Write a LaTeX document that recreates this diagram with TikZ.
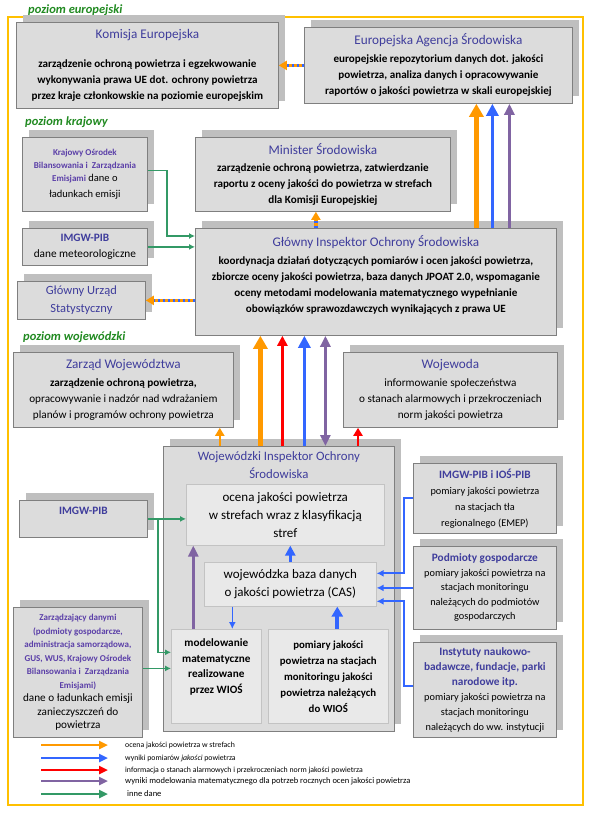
\documentclass[tikz,border=0pt]{standalone}
\usepackage{fontspec}
\setmainfont{Carlito}
\usetikzlibrary{arrows.meta,shadows}
\definecolor{ramka}{HTML}{FFC000}
\definecolor{tlo}{HTML}{DCDCDC}
\definecolor{cien}{HTML}{BFBFBF}
\definecolor{brzeg}{HTML}{7F7F7F}
\definecolor{tytul}{HTML}{3F3D9C}
\definecolor{fiolet}{HTML}{5B3FA8}
\definecolor{poziom}{HTML}{218A21}
\definecolor{pomar}{HTML}{FF9900}
\definecolor{nieb}{HTML}{3366FF}
\definecolor{czerw}{HTML}{FF0000}
\definecolor{purp}{HTML}{8064A2}
\definecolor{ziel}{HTML}{339966}
\definecolor{wnetrze}{HTML}{E9E9E9}
\definecolor{wbrzeg}{HTML}{C3C3C3}
\newcommand{\tyt}{\mdseries\fontsize{13.2}{16}\selectfont\color{tytul}}
\newcommand{\mal}{\bfseries\fontsize{9}{13}\selectfont\color{fiolet}}
\newcommand{\nag}{\bfseries\fontsize{11.3}{14}\selectfont\color{tytul}}
\tikzset{
  pudlo/.style={draw=brzeg, fill=tlo, line width=0.8pt, align=center, inner sep=0pt,
    anchor=north west, drop shadow={shadow xshift=7pt, shadow yshift=7pt, fill=cien, opacity=1},
    font=\bfseries\fontsize{11.1}{16}\selectfont},
  srodek/.style={draw=wbrzeg, fill=wnetrze, line width=0.6pt, align=center, inner sep=0pt,
    anchor=north west, font=\fontsize{13}{18}\selectfont},
  poziomy/.style={anchor=west, inner sep=0pt, font=\bfseries\itshape\fontsize{12.5}{14}\selectfont, text=poziom},
  legenda/.style={anchor=west, inner sep=0pt, font=\fontsize{7.8}{9}\selectfont},
  pom/.style={draw=pomar, line width=4.5pt, -{Triangle[width=14pt,length=13pt]}},
  nie/.style={draw=nieb, line width=3.8pt, -{Triangle[width=12pt,length=12pt]}},
  cze/.style={draw=czerw, line width=3pt, -{Triangle[width=10pt,length=10pt]}},
  fio/.style={draw=purp, line width=3.5pt, -{Triangle[width=10pt,length=11pt]}},
  zie/.style={draw=ziel, line width=1.5pt, -{Latex[width=6pt,length=6pt]}},
  cienka/.style={draw=nieb, line width=2pt, -{Latex[width=7pt,length=7pt]}},
  mix/.style={draw=pomar, line width=3.5pt, -{Triangle[width=9pt,length=8pt]},
    postaction={draw=nieb, line width=3.5pt, dash pattern=on 2.5pt off 2.5pt, -, shorten >=8pt}},
  leg/.style={line width=2.8pt, -{Triangle[width=8pt,length=9pt]}}
}
\begin{document}
\begin{tikzpicture}[x=1pt, y=-1pt]
  \useasboundingbox (0,0) rectangle (591,813);
  \draw[ramka, line width=1.2pt] (8,17) rectangle (583,805);

  \node[poziomy] (eur) at (28,10) {poziom europejski};
  \node[poziomy] (kraj) at (25,122) {poziom krajowy};
  \node[poziomy] (woj) at (23,337) {poziom wojewódzki};

  \node[pudlo, minimum width=262pt, minimum height=86pt] (komisja) at (16,22)
    {{\tyt Komisja Europejska}\\[13pt]zarządzenie ochroną powietrza i egzekwowanie\\wykonywania prawa UE dot. ochrony powietrza\\przez kraje członkowskie na poziomie europejskim};
  \node[pudlo, minimum width=268pt, minimum height=76pt] (eea) at (304,27)
    {{\tyt Europejska Agencja Środowiska}\\[2pt]europejskie repozytorium danych dot. jakości\\powietrza, analiza danych i opracowywanie\\raportów o jakości powietrza w skali europejskiej};

  \node[pudlo, minimum width=125pt, minimum height=74pt, font=\fontsize{10.5}{13}\selectfont] (kobize) at (22,137)
    {{\mal Krajowy Ośrodek}\\{\mal Bilansowania i\ \ Zarządzania}\\{\mal Emisjami} dane o\\[3pt]ładunkach emisji};
  \node[pudlo, minimum width=255pt, minimum height=74pt] (minister) at (195,137)
    {{\tyt Minister Środowiska}\\[1pt]zarządzenie ochroną powietrza, zatwierdzanie\\raportu z oceny jakości do powietrza w strefach\\dla Komisji Europejskiej};
  \node[pudlo, minimum width=125pt, minimum height=37pt, font=\fontsize{11.3}{16}\selectfont] (imgw) at (22,228)
    {{\nag IMGW-PIB}\\dane meteorologiczne};
  \node[pudlo, minimum width=128pt, minimum height=38pt, font=\fontsize{12.5}{18}\selectfont, text=tytul] (gus) at (17,281)
    {Główny Urząd\\Statystyczny};
  \node[pudlo, minimum width=361pt, minimum height=107pt] (gios) at (195,228)
    {{\tyt Główny Inspektor Ochrony Środowiska}\\[2pt]koordynacja działań dotyczących pomiarów i ocen jakości powietrza,\\zbiorcze oceny jakości powietrza, baza danych JPOAT 2.0, wspomaganie\\oceny metodami modelowania matematycznego wypełnianie\\obowiązków sprawozdawczych wynikających z prawa UE\\\mbox{}};

  \node[pudlo, minimum width=220pt, minimum height=75pt, font=\fontsize{11.2}{16}\selectfont] (zarzad) at (13,352)
    {{\tyt Zarząd Województwa}\\[2pt]{\bfseries zarządzenie ochroną powietrza,}\\opracowywanie i nadzór nad wdrażaniem\\planów i programów ochrony powietrza};
  \node[pudlo, minimum width=214pt, minimum height=75pt, font=\fontsize{11.2}{16}\selectfont] (wojewoda) at (343,352)
    {{\tyt Wojewoda}\\[2pt]informowanie społeczeństwa\\o stanach alarmowych i przekroczeniach\\norm jakości powietrza};

  \node[pudlo, minimum width=231pt, minimum height=285pt] (wios) at (163,446) {};
  \node[below, align=center, inner sep=0pt, font=\fontsize{12.8}{18}\selectfont, text=tytul] (wiostyt) at ([yshift=-5pt]wios.north)
    {Wojewódzki Inspektor Ochrony\\Środowiska};
  \node[srodek, minimum width=198pt, minimum height=61pt] (ocena) at (186,484)
    {ocena jakości powietrza\\w strefach wraz z klasyfikacją\\stref};
  \node[srodek, minimum width=172pt, minimum height=44pt] (cas) at (204,562)
    {wojewódzka baza danych\\o jakości powietrza (CAS)};
  \node[srodek, minimum width=90pt, minimum height=94pt, font=\bfseries\fontsize{11.2}{15.7}\selectfont] (model) at (171,629)
    {modelowanie\\matematyczne\\realizowane\\przez WIOŚ\\[5pt]\mbox{}};
  \node[srodek, minimum width=120pt, minimum height=94pt, font=\bfseries\fontsize{10.8}{16}\selectfont] (pomiary) at (268,629)
    {pomiary jakości\\powietrza na stacjach\\monitoringu jakości\\powietrza należących\\do WIOŚ};

  \node[pudlo, minimum width=128pt, minimum height=37pt, font=\fontsize{11}{16}\selectfont] (imgwb) at (19,500)
    {{\nag IMGW-PIB}\\\mbox{}};
  \node[pudlo, minimum width=129pt, minimum height=130pt, font=\fontsize{11.2}{13.5}\selectfont] (zarzadzajacy) at (13,607)
    {{\mal Zarządzający danymi}\\{\mal (podmioty gospodarcze,}\\{\mal administracja samorządowa,}\\{\mal GUS, WUS, Krajowy Ośrodek}\\{\mal Bilansowania i\ \ Zarządzania}\\{\mal Emisjami)}\\dane o ładunkach emisji\\zanieczyszczeń do\\powietrza};

  \node[pudlo, minimum width=143pt, minimum height=70pt, font=\fontsize{10.3}{16}\selectfont] (imgwios) at (413,463)
    {{\nag IMGW-PIB i IOŚ-PIB}\\pomiary jakości powietrza\\na stacjach tła\\regionalnego (EMEP)};
  \node[pudlo, minimum width=143pt, minimum height=83pt, font=\fontsize{10.3}{14.5}\selectfont] (podmioty) at (413,546)
    {{\nag Podmioty gospodarcze}\\pomiary jakości powietrza na\\stacjach monitoringu\\należących do podmiotów\\gospodarczych};
  \node[pudlo, minimum width=143pt, minimum height=95pt, font=\fontsize{10.3}{15}\selectfont] (instytuty) at (413,642)
    {{\nag Instytuty naukowo-}\\{\nag badawcze, fundacje, parki}\\{\nag narodowe itp.}\\pomiary jakości powietrza na\\stacjach monitoringu\\należących do ww. instytucji};

  \draw[mix] (eea.west) -- (eea.west -| komisja.east);
  \draw[pom] ([xshift=38pt]eea.south |- gios.north) -- ([xshift=38pt]eea.south);
  \draw[nie] ([xshift=54pt]eea.south |- gios.north) -- ([xshift=54pt]eea.south);
  \draw[fio] ([xshift=71pt]eea.south |- gios.north) -- ([xshift=71pt]eea.south);

  \draw[zie] ([yshift=4pt]kobize.east) -- ++(19,0) |- ([yshift=-8pt]gios.north west);
  \draw[zie] (imgw.east) -- (imgw.east -| gios.west);
  \draw[mix] (gios.west |- gus.east) -- (gus.east);
  \draw[mix] ([xshift=-7pt]minister.south |- gios.north) -- ([xshift=-7pt]minister.south);

  \draw[pom] ([xshift=-18.5pt]wios.north) -- ([xshift=-18.5pt]wios.north |- gios.south);
  \draw[cze] ([xshift=3.5pt]wios.north) -- ([xshift=3.5pt]wios.north |- gios.south);
  \draw[nie] ([xshift=25.5pt]wios.north) -- ([xshift=25.5pt]wios.north |- gios.south);
  \draw[fio, {Triangle[width=10pt,length=11pt]}-{Triangle[width=10pt,length=11pt]}] ([xshift=46.5pt]wios.north) -- ([xshift=46.5pt]wios.north |- gios.south);
  \draw[pom, line width=2.5pt, -{Triangle[width=9pt,length=8pt]}] ([xshift=-14pt]zarzad.south east |- wios.north) -- ([xshift=-14pt]zarzad.south east);
  \draw[cze, line width=2.5pt, -{Triangle[width=9pt,length=8pt]}] ([xshift=15pt]wojewoda.south west |- wios.north) -- ([xshift=15pt]wojewoda.south west);

  \draw[zie] (imgwb.east) -- (imgwb.east -| ocena.west);
  \draw[zie] ([xshift=10pt]imgwb.east) |- ([yshift=24pt]model.west);
  \draw[zie] ([yshift=4pt]zarzadzajacy.east) -- ([yshift=4pt]zarzadzajacy.east -| model.west);
  \draw[fio] ([xshift=-23pt]model.north) -- ([xshift=-23pt]model.north |- ocena.south);
  \draw[nie, line width=3.5pt, -{Triangle[width=10pt,length=10pt]}] (cas.north) -- (cas.north |- ocena.south);
  \draw[cienka, line width=1.5pt] ([xshift=16pt]model.north |- cas.south) -- ([xshift=16pt]model.north);
  \draw[nie, line width=4pt, -{Triangle[width=11pt,length=10pt]}] ([xshift=9pt]pomiary.north) -- ([xshift=9pt]pomiary.north |- cas.south);

  \draw[cienka] (imgwios.west) -- ++(-9,0) |- ([yshift=11pt]cas.east);
  \draw[cienka] (podmioty.west) -- (podmioty.west -| cas.east);
  \draw[cienka] ([yshift=4pt]instytuty.west) -- ++(-9,0) |- ([yshift=-17pt]cas.east);

  \coordinate (l1) at (41,745);
  \coordinate (l2) at (41,758);
  \coordinate (l3) at (41,770);
  \coordinate (l4) at (41,781);
  \coordinate (l5) at (41,794);
  \node[legenda] (t1) at (125,745) {ocena jakości powietrza w strefach};
  \node[legenda] (t2) at (125,758) {wyniki pomiarów \textit{jakości} powietrza};
  \node[legenda] (t3) at (125,770) {informacja o stanach alarmowych i przekroczeniach norm jakości powietrza};
  \node[legenda, font=\fontsize{8.5}{10}\selectfont] (t4) at (125,781) {wyniki modelowania matematycznego dla potrzeb rocznych ocen jakości powietrza};
  \node[legenda, font=\fontsize{8.5}{10}\selectfont] (t5) at (127,794) {inne dane};
  \draw[pom, leg] (l1) -- ([xshift=-17pt]t1.west);
  \draw[nie, leg] (l2) -- ([xshift=-17pt]t2.west);
  \draw[cze, leg] (l3) -- ([xshift=-17pt]t3.west);
  \draw[fio, leg] (l4) -- ([xshift=-17pt]t4.west);
  \draw[zie, leg] (l5) -- ([xshift=-19pt]t5.west);
\end{tikzpicture}
\end{document}
